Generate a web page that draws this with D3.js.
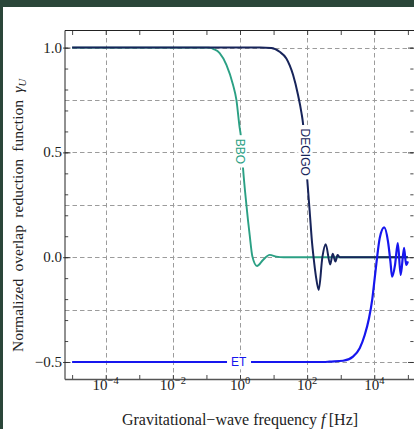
<!DOCTYPE html>
<html><head><meta charset="utf-8">
<script src="https://cdn.jsdelivr.net/npm/d3@7"></script>
<style>
body{margin:0;background:#2a4639;}
svg{display:block}
</style>
</head><body>
<svg id="c" width="414" height="429"></svg>
<script>
// ---- data ----
const bboFreq  = [1e-5, 0.12, 0.165, 0.248, 0.394, 0.619, 0.781, 0.98, 1.05, 1.23, 1.55, 1.94, 2.34, 3.21, 4.84, 7.67, 12.1, 20, 1e5];
const bboGamma = [1.0, 1.0, 0.993, 0.974, 0.918, 0.823, 0.751, 0.616, 0.584, 0.425, 0.25, 0.106, 0.003, -0.042, -0.013, 0.011, 0.003, 0.0, 0.0];

const decigoFreq  = [1e-5, 4.0, 8.5, 15.1, 24, 38, 53.3, 67.5, 75.2, 87, 101.6, 119, 139, 155, 182, 221, 284, 357, 486, 577, 698, 802, 933, 1e5];
const decigoGamma = [1.0, 1.0, 0.998, 0.98, 0.948, 0.87, 0.775, 0.69, 0.638, 0.50, 0.361, 0.218, 0.074, 0.0, -0.09, -0.156, 0.0, 0.062, -0.035, 0.016, -0.021, 0.010, 0.0, 0.0];

const etFreq  = [1e-5, 316, 469, 1170, 2320, 3670, 5180, 6950, 8770, 10280, 12020, 14490, 19700, 25590, 30200, 33800, 41400, 50000, 61100, 76700, 89100, 1e5];
const etGamma = [-0.5, -0.5, -0.498, -0.494, -0.474, -0.434, -0.371, -0.291, -0.196, -0.100, -0.005, 0.091, 0.142, 0.074, -0.021, -0.093, -0.037, 0.067, -0.085, 0.045, -0.037, -0.02];

const seriesNames  = ["BBO", "DECIGO", "ET"];
const labelFreq    = [1.01, 89.3, 0.914];
const labelGamma   = [0.505, 0.501, -0.5];
const labelRotate  = [90, 90, 0];

const yMajorTicks = [-0.5, 0.0, 0.5, 1.0];
const yMajorLabels = ["\u22120.5", "0.0", "0.5", "1.0"];
const yMinorTicks = [-0.5,-0.4,-0.3,-0.2,-0.1,0,0.1,0.2,0.3,0.4,0.5,0.6,0.7,0.8,0.9,1.0];
const yGrid = [-0.5, -0.25, 0, 0.25, 0.5, 0.75, 1.0];
const xLabelExps = [-4, -2, 0, 2, 4];
const xDecadeExps = [-5,-4,-3,-2,-1,0,1,2,3,4,5];

// ---- layout ----
const W = 414, H = 429;
const L = 65, R = 414, T = 30.5, B = 379.5;
const colors = {BBO: "#2ba084", DECIGO: "#17245a", ET: "#1616ee"};
const widths = {BBO: 1.9, DECIGO: 2.0, ET: 2.2};
const serif = "'Liberation Serif','Times New Roman',serif";
const sans = "'Liberation Sans',Arial,sans-serif";

const svg = d3.select("#c");
svg.append("rect").attr("x",0).attr("y",0).attr("width",W).attr("height",H).attr("fill","#2a4639");
svg.append("rect").attr("x",3).attr("y",7).attr("width",W-3).attr("height",H-7).attr("fill","#ffffff");

const x = d3.scaleLog().domain([Math.pow(10,-5.212), Math.pow(10,5.182)]).range([L, R]);
const y = d3.scaleLinear().domain([-0.5835, 1.0815]).range([B, T]);

// grid
const grid = svg.append("g").attr("stroke","#9c9c9c").attr("stroke-width",1).attr("stroke-dasharray","4.5,3").attr("fill","none");
grid.selectAll("line.h").data(yGrid).join("line").attr("class","h")
  .attr("x1",L).attr("x2",R).attr("y1",d=>Math.round(y(d))+0.5).attr("y2",d=>Math.round(y(d))+0.5);
grid.selectAll("line.v").data(xLabelExps).join("line").attr("class","v")
  .attr("y1",T).attr("y2",B).attr("x1",d=>Math.round(x(Math.pow(10,d)))+0.5).attr("x2",d=>Math.round(x(Math.pow(10,d)))+0.5);

// series
const series = [
  {name:"BBO", f:bboFreq, g:bboGamma},
  {name:"DECIGO", f:decigoFreq, g:decigoGamma},
  {name:"ET", f:etFreq, g:etGamma}
];
const line = d3.line().x(d=>x(d[0])).y(d=>y(d[1])).curve(d3.curveMonotoneX);
const plotG = svg.append("g");
series.forEach(s=>{
  plotG.append("path").datum(s.f.map((f,i)=>[f, s.g[i]]))
    .attr("d", line).attr("fill","none").attr("stroke", colors[s.name])
    .attr("stroke-width", widths[s.name]).attr("stroke-linejoin","round");
});

// inline labels
seriesNames.forEach((n,i)=>{
  const g = svg.append("g").attr("transform",`translate(${x(labelFreq[i])},${y(labelGamma[i])}) rotate(${labelRotate[i]})`);
  const rect = g.append("rect").attr("fill","#ffffff");
  const t = g.append("text").attr("text-anchor","middle").attr("dy","0.36em")
    .attr("fill", colors[n]).style("font-family", sans).style("font-size","12px").text(n);
  const bb = t.node().getBBox();
  const pad = n === "ET" ? 4 : 3.5;
  rect.attr("x", bb.x - pad).attr("y", bb.y).attr("width", bb.width + 2*pad).attr("height", bb.height);
});

// axes ticks (inward)
const xMinor = x.ticks().filter(v => !xDecadeExps.some(e => Math.abs(Math.log10(v) - e) < 1e-9));
const xDec = xDecadeExps.map(e=>Math.pow(10,e));
function styleAxis(g){ g.select(".domain").remove(); g.selectAll("line").attr("stroke","#333").attr("stroke-width",0.9); g.selectAll("text").remove(); }
svg.append("g").attr("transform",`translate(0,${B})`).call(d3.axisBottom(x).tickValues(xDec).tickSize(-4.5)).call(styleAxis);
svg.append("g").attr("transform",`translate(0,${B})`).call(d3.axisBottom(x).tickValues(xMinor).tickSize(-2.2)).call(styleAxis);
svg.append("g").attr("transform",`translate(0,${T})`).call(d3.axisTop(x).tickValues(xDec).tickSize(-4.5)).call(styleAxis);
svg.append("g").attr("transform",`translate(0,${T})`).call(d3.axisTop(x).tickValues(xMinor).tickSize(-2.2)).call(styleAxis);
svg.append("g").attr("transform",`translate(${L},0)`).call(d3.axisLeft(y).tickValues(yMajorTicks).tickSize(-5.5)).call(styleAxis);
svg.append("g").attr("transform",`translate(${L},0)`).call(d3.axisLeft(y).tickValues(yMajorTicks).tickSize(2)).call(styleAxis);
svg.append("g").attr("transform",`translate(${L},0)`).call(d3.axisLeft(y).tickValues(yMinorTicks).tickSize(-3.2)).call(styleAxis);
svg.append("g").attr("transform",`translate(${R-0.5},0)`).call(d3.axisRight(y).tickValues(yMajorTicks).tickSize(-5.5)).call(styleAxis);
svg.append("g").attr("transform",`translate(${R-0.5},0)`).call(d3.axisRight(y).tickValues(yMinorTicks).tickSize(-3.2)).call(styleAxis);

// frame
const fr = svg.append("g").attr("fill","none");
fr.append("line").attr("x1",L).attr("x2",R).attr("y1",T).attr("y2",T).attr("stroke","#222").attr("stroke-width",1);
fr.append("line").attr("x1",L).attr("x2",L).attr("y1",T).attr("y2",B).attr("stroke","#222").attr("stroke-width",1);
fr.append("line").attr("x1",L).attr("x2",R).attr("y1",B).attr("y2",B).attr("stroke","#555").attr("stroke-width",1.5);

// y tick labels
svg.append("g").selectAll("text").data(yMajorTicks).join("text")
  .attr("x", L-3).attr("y", d=>y(d)).attr("dy","0.34em").attr("text-anchor","end")
  .style("font-family", serif).style("font-size","15px").attr("fill","#222")
  .text((d,i)=>yMajorLabels[i]);

// x tick labels 10^n
const xl = svg.append("g").selectAll("text").data(xLabelExps).join("text")
  .attr("x", d=>x(Math.pow(10,d))).attr("y", 390).attr("text-anchor","middle")
  .style("font-family", serif).style("font-size","15px").attr("fill","#222");
xl.append("tspan").text("10");
xl.append("tspan").attr("dy",-6).style("font-size","10.5px").text(d=> d<0 ? "\u2212"+Math.abs(d) : String(d));

// axis titles
const xt = svg.append("text").attr("x", 240).attr("y", 424.5).attr("text-anchor","middle")
  .style("font-family", serif).style("font-size","16px").attr("fill","#222");
xt.append("tspan").text("Gravitational\u2212wave frequency ");
xt.append("tspan").style("font-style","italic").text("f");
xt.append("tspan").text("\u2009[Hz]");

const yt = svg.append("text").attr("transform","translate(22.5,215.5) rotate(-90)").attr("text-anchor","middle")
  .style("font-family", serif).style("font-size","15.5px").style("word-spacing","3.5px").attr("fill","#222");
yt.append("tspan").text("Normalized overlap reduction function ");
yt.append("tspan").style("font-style","italic").text("\u03B3");
yt.append("tspan").attr("dy",3).style("font-style","italic").style("font-size","10.5px").text("U");
</script>
</body></html>
